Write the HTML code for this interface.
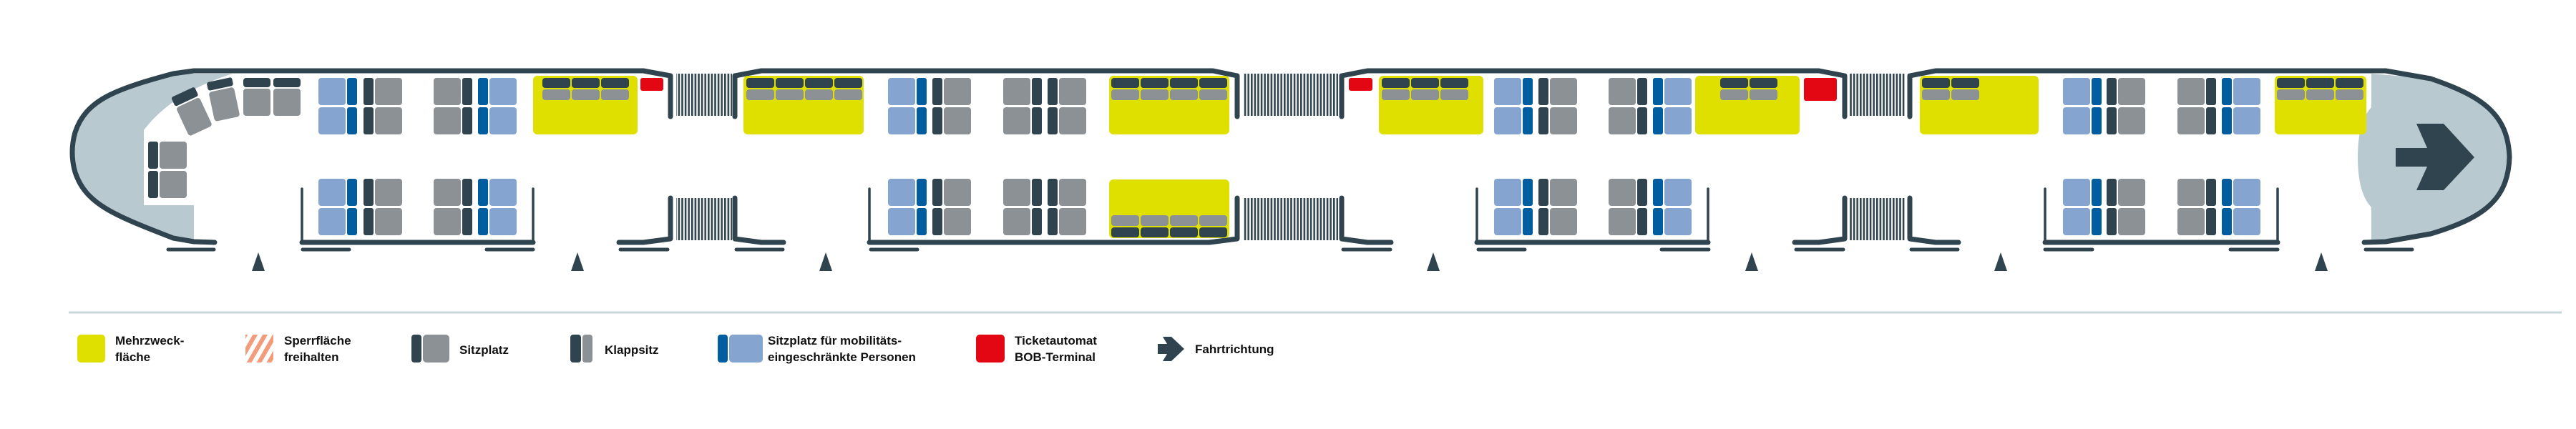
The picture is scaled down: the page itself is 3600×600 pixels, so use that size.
<!DOCTYPE html>
<html><head><meta charset="utf-8"><style>
html,body{margin:0;padding:0;background:#fff}
svg{display:block}
text{font-family:"Liberation Sans",sans-serif;font-weight:bold;font-size:17px;fill:#111}
</style></head><body>
<svg width="3600" height="600" viewBox="0 0 3600 600" xmlns="http://www.w3.org/2000/svg">
<defs>
<symbol id="B" width="54" height="79"><rect x="0" y="0" width="38" height="38" rx="4" fill="#85a4cf"/><rect x="40" y="0" width="14" height="38" rx="3" fill="#005da0"/><rect x="0" y="41" width="38" height="38" rx="4" fill="#85a4cf"/><rect x="40" y="41" width="14" height="38" rx="3" fill="#005da0"/></symbol>
<symbol id="BL" width="54" height="79"><rect x="0" y="0" width="14" height="38" rx="3" fill="#005da0"/><rect x="16" y="0" width="38" height="38" rx="4" fill="#85a4cf"/><rect x="0" y="41" width="14" height="38" rx="3" fill="#005da0"/><rect x="16" y="41" width="38" height="38" rx="4" fill="#85a4cf"/></symbol>
<symbol id="D" width="54" height="79"><rect x="0" y="0" width="14" height="38" rx="3" fill="#30444f"/><rect x="16" y="0" width="38" height="38" rx="4" fill="#8c9196"/><rect x="0" y="41" width="14" height="38" rx="3" fill="#30444f"/><rect x="16" y="41" width="38" height="38" rx="4" fill="#8c9196"/></symbol>
<symbol id="G" width="54" height="79"><rect x="0" y="0" width="38" height="38" rx="4" fill="#8c9196"/><rect x="40" y="0" width="14" height="38" rx="3" fill="#30444f"/><rect x="0" y="41" width="38" height="38" rx="4" fill="#8c9196"/><rect x="40" y="41" width="14" height="38" rx="3" fill="#30444f"/></symbol>
<symbol id="S" width="39" height="31"><rect x="0" y="0" width="39" height="14" rx="4" fill="#30444f"/><rect x="0" y="16" width="39" height="15" rx="4" fill="#8c9196"/></symbol>
<symbol id="SU" width="39" height="31"><rect x="0" y="0" width="39" height="15" rx="4" fill="#8c9196"/><rect x="0" y="17" width="39" height="14" rx="4" fill="#30444f"/></symbol>
<pattern id="bel" width="4.6" height="10" patternUnits="userSpaceOnUse"><rect x="0" y="0" width="2.6" height="10" fill="#30444f"/></pattern>
<pattern id="hatch" width="12" height="12" patternUnits="userSpaceOnUse" patternTransform="rotate(30)"><rect width="6" height="12" fill="#f29c7c"/></pattern>
</defs>

<!-- pale cab fills -->
<path d="M325,103 Q240,130 201,182 L201,287 L271,287 L271,338 L242,333 C160,301 120,286 105,241 Q97,213 105,185 C120,140 160,125 242,103 Z" fill="#b8c9d0"/>
<path d="M3314,103 L3314,150 Q3295,170 3295,220 Q3295,270 3314,290 L3314,337 L3397,327 C3470,305 3505,280 3507,220 C3505,160 3470,135 3397,110 Z" fill="#b8c9d0"/>

<!-- bellows -->
<g fill="url(#bel)">
<rect x="945" y="103" width="78" height="59"/><rect x="945" y="277" width="78" height="59"/>
<rect x="1738" y="103" width="132" height="59"/><rect x="1738" y="277" width="132" height="59"/>
<rect x="2585" y="103" width="78" height="59"/><rect x="2585" y="277" width="78" height="59"/>
</g>

<g fill="none" stroke="#30444f" stroke-width="7" stroke-linecap="round" stroke-linejoin="round">
<path d="M300,339 L271,338 L242,333 C160,301 120,286 105,241 Q97,213 105,185 C120,140 160,125 242,103 L271,99 L899,99 L937,106 L937,163"/>
<path d="M937,277 L937,334 L899,339 L865,339"/>
<path d="M422,339 L745,339"/>
<path d="M1027,163 L1027,106 L1064,99 L1695,99 L1729,106 L1729,163"/>
<path d="M1027,277 L1027,334 L1064,339 L1095,339"/>
<path d="M1215,339 L1690,339 L1729,334 L1729,277"/>
<path d="M1875,163 L1875,106 L1911,99 L2542,99 L2578,106 L2578,163"/>
<path d="M1875,277 L1875,334 L1911,339 L1944,339"/>
<path d="M2064,339 L2387,339"/>
<path d="M2508,339 L2542,339 L2578,334 L2578,277"/>
<path d="M2669,163 L2669,106 L2705,99 L3334,99 L3397,110 C3470,135 3505,160 3507,220 C3505,280 3470,305 3397,327 L3334,338 L3304,339"/>
<path d="M2669,277 L2669,334 L2705,339 L2737,339"/>
<path d="M2858,339 L3183,339"/>
</g>
<g stroke="#30444f" stroke-width="3.5" stroke-linecap="round">
<line x1="422" y1="264" x2="422" y2="339"/><line x1="745" y1="264" x2="745" y2="339"/>
<line x1="1215" y1="264" x2="1215" y2="339"/>
<line x1="2064" y1="264" x2="2064" y2="339"/><line x1="2387" y1="264" x2="2387" y2="339"/>
<line x1="2858" y1="264" x2="2858" y2="339"/><line x1="3183" y1="264" x2="3183" y2="339"/>
</g>
<g stroke="#30444f" stroke-width="5" stroke-linecap="round">
<line x1="235" y1="349" x2="299" y2="349"/><line x1="423" y1="349" x2="488" y2="349"/><line x1="680" y1="349" x2="745" y2="349"/><line x1="867" y1="349" x2="933" y2="349"/>
<line x1="1029" y1="349" x2="1094" y2="349"/><line x1="1217" y1="349" x2="1282" y2="349"/>
<line x1="1877" y1="349" x2="1943" y2="349"/><line x1="2066" y1="349" x2="2131" y2="349"/><line x1="2322" y1="349" x2="2388" y2="349"/><line x1="2510" y1="349" x2="2576" y2="349"/>
<line x1="2671" y1="349" x2="2736" y2="349"/><line x1="2858" y1="349" x2="2924" y2="349"/><line x1="3117" y1="349" x2="3183" y2="349"/><line x1="3306" y1="349" x2="3371" y2="349"/>
</g>
<g fill="#30444f">
<path d="M352,379 L361,353 L370,379Z"/><path d="M798,379 L807,353 L816,379Z"/><path d="M1145,379 L1154,353 L1163,379Z"/>
<path d="M1994,379 L2003,353 L2012,379Z"/><path d="M2439,379 L2448,353 L2457,379Z"/><path d="M2787,379 L2796,353 L2805,379Z"/><path d="M3235,379 L3244,353 L3253,379Z"/>
</g>
<path d="M3348,207 L3392,207 L3377,173 L3415,173 L3458,220 L3415,266 L3377,266 L3392,233 L3348,233 Z" fill="#30444f"/>

<g fill="#dfdf00">
<rect x="745" y="106" width="146" height="82" rx="6"/>
<rect x="1039" y="106" width="168" height="82" rx="6"/>
<rect x="1550" y="106" width="168" height="82" rx="6"/>
<rect x="1550" y="251" width="168" height="82" rx="6"/>
<rect x="1927" y="106" width="146" height="82" rx="6"/>
<rect x="2369" y="106" width="146" height="82" rx="6"/>
<rect x="2683" y="106" width="166" height="82" rx="6"/>
<rect x="3179" y="106" width="128" height="82" rx="6"/>
</g>
<g>
<use href="#S" x="758" y="109"/><use href="#S" x="799" y="109"/><use href="#S" x="840" y="109"/>
<use href="#S" x="1043" y="109"/><use href="#S" x="1084" y="109"/><use href="#S" x="1125" y="109"/><use href="#S" x="1166" y="109"/>
<use href="#S" x="1553" y="109"/><use href="#S" x="1594" y="109"/><use href="#S" x="1635" y="109"/><use href="#S" x="1676" y="109"/>
<use href="#SU" x="1553" y="301"/><use href="#SU" x="1594" y="301"/><use href="#SU" x="1635" y="301"/><use href="#SU" x="1676" y="301"/>
<use href="#S" x="1931" y="109"/><use href="#S" x="1972" y="109"/><use href="#S" x="2013" y="109"/>
<use href="#S" x="2404" y="109"/><use href="#S" x="2445" y="109"/>
<use href="#S" x="2686" y="109"/><use href="#S" x="2727" y="109"/>
<use href="#S" x="3182" y="109"/><use href="#S" x="3223" y="109"/><use href="#S" x="3264" y="109"/>
</g>
<g fill="#e30613">
<rect x="895" y="109" width="32" height="18" rx="3"/>
<rect x="1885" y="109" width="33" height="18" rx="3"/>
<rect x="2521" y="109" width="46" height="32" rx="3"/>
</g>

<g>
<use href="#B" x="445" y="109"/><use href="#D" x="508" y="109"/><use href="#G" x="606" y="109"/><use href="#BL" x="668" y="109"/>
<use href="#B" x="445" y="250"/><use href="#D" x="508" y="250"/><use href="#G" x="606" y="250"/><use href="#BL" x="668" y="250"/>
<use href="#B" x="1241" y="109"/><use href="#D" x="1303" y="109"/><use href="#G" x="1402" y="109"/><use href="#D" x="1464" y="109"/>
<use href="#B" x="1241" y="250"/><use href="#D" x="1303" y="250"/><use href="#G" x="1402" y="250"/><use href="#D" x="1464" y="250"/>
<use href="#B" x="2088" y="109"/><use href="#D" x="2150" y="109"/><use href="#G" x="2248" y="109"/><use href="#BL" x="2310" y="109"/>
<use href="#B" x="2088" y="250"/><use href="#D" x="2150" y="250"/><use href="#G" x="2248" y="250"/><use href="#BL" x="2310" y="250"/>
<use href="#B" x="2883" y="109"/><use href="#D" x="2944" y="109"/><use href="#G" x="3043" y="109"/><use href="#BL" x="3105" y="109"/>
<use href="#B" x="2883" y="250"/><use href="#D" x="2944" y="250"/><use href="#G" x="3043" y="250"/><use href="#BL" x="3105" y="250"/>
<use href="#D" x="207" y="198"/>
</g>
<g>
<rect x="340" y="109" width="38" height="13" rx="4" fill="#30444f"/><rect x="340" y="124" width="38" height="38" rx="4" fill="#8c9196"/>
<rect x="382" y="109" width="38" height="13" rx="4" fill="#30444f"/><rect x="382" y="124" width="38" height="38" rx="4" fill="#8c9196"/>
<g transform="translate(312,139) rotate(-12)"><rect x="-18" y="-28" width="36" height="12" rx="3" fill="#30444f"/><rect x="-18" y="-14" width="36" height="42" rx="4" fill="#8c9196"/></g>
<g transform="translate(268,156) rotate(-25)"><rect x="-18" y="-30" width="36" height="14" rx="3" fill="#30444f"/><rect x="-18" y="-14" width="36" height="44" rx="4" fill="#8c9196"/></g>
</g>

<line x1="96" y1="437" x2="3580" y2="437" stroke="#c9d6d9" stroke-width="3"/>
<rect x="108" y="468" width="39" height="39" rx="5" fill="#dfdf00"/>
<text x="161" y="482">Mehrzweck-</text><text x="161" y="505">fläche</text>
<rect x="343" y="468" width="39" height="39" fill="url(#hatch)"/>
<text x="397" y="482">Sperrfläche</text><text x="397" y="505">freihalten</text>
<rect x="575" y="468" width="14" height="39" rx="4" fill="#30444f"/><rect x="591" y="468" width="37" height="39" rx="5" fill="#8c9196"/>
<text x="642" y="495">Sitzplatz</text>
<rect x="797" y="468" width="15" height="39" rx="4" fill="#30444f"/><rect x="814" y="468" width="14" height="39" rx="4" fill="#8c9196"/>
<text x="845" y="495">Klappsitz</text>
<rect x="1003" y="468" width="14" height="39" rx="4" fill="#005da0"/><rect x="1019" y="468" width="47" height="39" rx="5" fill="#85a4cf"/>
<text x="1073" y="482">Sitzplatz für mobilitäts-</text><text x="1073" y="505">eingeschränkte Personen</text>
<rect x="1364" y="468" width="40" height="39" rx="5" fill="#e30613"/>
<text x="1418" y="482">Ticketautomat</text><text x="1418" y="505">BOB-Terminal</text>
<path d="M1618,481 L1631,481 L1625,471 L1637,471 L1655,488 L1637,505 L1625,505 L1631,495 L1618,495 Z" fill="#30444f"/>
<text x="1670" y="494">Fahrtrichtung</text>
</svg>
</body></html>
